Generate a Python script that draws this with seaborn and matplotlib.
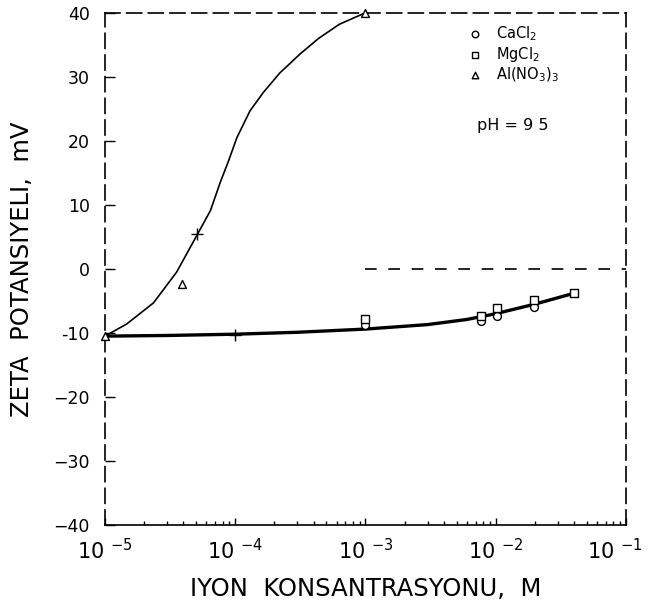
import matplotlib
matplotlib.use("Agg")
import matplotlib.pyplot as plt
import matplotlib.transforms as mtransforms
import seaborn as sns
from matplotlib.ticker import FixedLocator, FixedFormatter, LogLocator, NullFormatter

# ---- data ----
al_curve_x = [1e-5, 1.47e-5, 2.36e-5, 3.55e-5, 5.0e-5, 6.45e-5, 7.67e-5, 8.9e-5,
              1.03e-4, 1.3e-4, 1.65e-4, 2.2e-4, 3.16e-4, 4.37e-4, 6.3e-4, 1e-3]
al_curve_y = [-10.5, -8.6, -5.3, -0.5, 5.0, 9.1, 13.5, 16.9,
              20.5, 24.7, 27.6, 30.6, 33.6, 36.0, 38.2, 40.0]

low_curve_x = [1e-5, 3e-5, 1e-4, 3e-4, 1e-3, 3e-3, 6e-3, 1e-2, 2e-2, 4e-2]
low_curve_y = [-10.5, -10.4, -10.2, -9.9, -9.4, -8.7, -7.9, -7.0, -5.5, -3.8]

cacl2_x = [1e-3, 7.7e-3, 1.03e-2, 1.97e-2]
cacl2_y = [-8.7, -8.1, -7.3, -6.0]

mgcl2_x = [1e-3, 7.7e-3, 1.03e-2, 1.97e-2, 4e-2]
mgcl2_y = [-7.8, -7.3, -6.1, -4.9, -3.8]

al_x = [1e-5, 3.9e-5, 1e-3]
al_y = [-10.5, -2.4, 40.0]

plus_x = [5.07e-5, 1e-4]
plus_y = [5.4, -10.3]

zero_x = [1e-3, 1e-1]
zero_y = [0, 0]

xticks = [1e-5, 1e-4, 1e-3, 1e-2, 1e-1]
xticklabels = ["10 $^{-5}$", "10 $^{-4}$", "10 $^{-3}$", "10 $^{-2}$", "10 $^{-1}$"]
yticks = [-40, -30, -20, -10, 0, 10, 20, 30, 40]
yticklabels = ["\u221240", "\u221230", "\u221220", "-10", "0", "10", "20", "30", "40"]

legend_labels = ["CaCl$_2$", "MgCl$_2$", "Al(NO$_3$)$_3$"]

# ---- figure ----
sns.set_style("white")
plt.rcParams["font.family"] = ["DejaVu Sans"]
plt.rcParams["mathtext.default"] = "regular"
for k in ["text.color", "axes.labelcolor", "xtick.color", "ytick.color", "axes.edgecolor"]:
    plt.rcParams[k] = "black"

fig = plt.figure(figsize=(6.48, 6.08), dpi=100)
ax = fig.add_axes([0.162, 0.1365, 0.804, 0.8425])

sns.lineplot(x=al_curve_x, y=al_curve_y, ax=ax, color="black", lw=1.2, sort=False)
sns.lineplot(x=low_curve_x, y=low_curve_y, ax=ax, color="black", lw=2.4, sort=False)
ax.plot(zero_x, zero_y, color="black", lw=1.2, dashes=(7, 7))

mk = dict(facecolor="white", edgecolor="black", linewidth=1.0, s=32, clip_on=False, zorder=4)
sns.scatterplot(x=cacl2_x, y=cacl2_y, marker="o", ax=ax, label=legend_labels[0], **mk)
sns.scatterplot(x=mgcl2_x, y=mgcl2_y, marker="s", ax=ax, label=legend_labels[1], **mk)
sns.scatterplot(x=al_x, y=al_y, marker="^", ax=ax, label=legend_labels[2], **mk)
ax.plot(plus_x, plus_y, linestyle="none", marker="+", markersize=8, color="black", mew=1.0)

ax.set_xscale("log")
ax.set_xlim(1e-5, 1e-1)
ax.set_ylim(-40, 40)

ax.xaxis.set_major_locator(FixedLocator(xticks))
ax.xaxis.set_major_formatter(FixedFormatter(xticklabels))
ax.xaxis.set_minor_locator(LogLocator(base=10, subs=range(2, 10), numticks=20))
ax.xaxis.set_minor_formatter(NullFormatter())
ax.set_yticks(yticks)
ax.set_yticklabels(yticklabels)

ax.tick_params(axis="x", which="major", direction="in", length=5, width=1.0,
               labelsize=15, pad=9, colors="black", bottom=True, top=False)
ax.tick_params(axis="x", which="minor", direction="in", length=3, width=1.0,
               bottom=True, top=False, colors="black")
ax.tick_params(axis="y", which="major", direction="in", length=7, width=1.0,
               labelsize=12.5, pad=11, left=True, right=False, colors="black")

for side in ["top", "left", "right"]:
    ax.spines[side].set_linestyle((0, (9, 4)))
    ax.spines[side].set_linewidth(1.2)
    ax.spines[side].set_color("black")
ax.spines["bottom"].set_linewidth(1.2)
ax.spines["bottom"].set_color("black")

ax.set_xlabel("IYON  KONSANTRASYONU,  M", fontsize=17.5, labelpad=10, color="black")
ax.set_ylabel("ZETA  POTANSIYELI,  mV", fontsize=17.5, labelpad=14, color="black")

leg = ax.legend(loc="upper left", bbox_to_anchor=(0.68, 0.995), frameon=False,
                fontsize=10.5, handletextpad=0.9, labelspacing=0.12,
                handlelength=1.0, borderaxespad=0.2)
for h in leg.legend_handles:
    h.set_sizes([22])
for t in leg.get_texts():
    t.set_color("black")

ax.text(0.715, 0.78, "pH = 9 5", transform=ax.transAxes, fontsize=11.5,
        ha="left", va="center", color="black")

# keep the last x tick label inside the canvas
fig.canvas.draw()
last = ax.get_xticklabels()[-1]
last.set_transform(last.get_transform() +
                   mtransforms.ScaledTranslation(-8 / 72, 0, fig.dpi_scale_trans))

ax.set_facecolor("white")
fig.patch.set_facecolor("white")
fig.savefig("out.png", dpi=100, facecolor="white")
